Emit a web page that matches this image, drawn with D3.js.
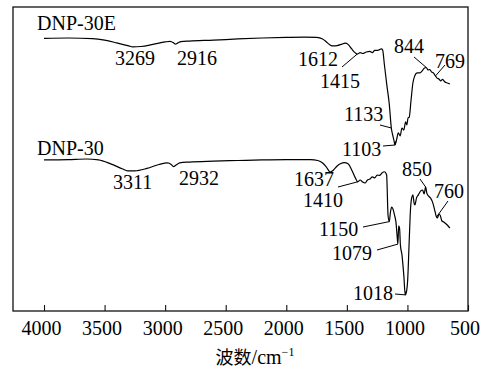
<!DOCTYPE html>
<html>
<head>
<meta charset="utf-8">
<script src="https://cdn.jsdelivr.net/npm/d3@7"></script>
<style>
  body { margin: 0; background: #fff; }
  svg text { font-family: "Liberation Serif", Tinos, "Times New Roman", Times, "DejaVu Serif", serif; fill: #000; }
</style>
</head>
<body>
<svg id="chart" width="485" height="371"></svg>
<script>
// ---- FTIR spectra (wavenumber in cm^-1, transmittance in arbitrary %) ----
const seriesNames = ["DNP-30E", "DNP-30"];

const dnp30eWave = [4000, 3800, 3600, 3500, 3400, 3300, 3269, 3200, 3100, 3000, 2960, 2930, 2916, 2895, 2870, 2800,
  2600, 2400, 2200, 2000, 1850, 1750, 1700, 1660, 1630, 1612, 1580, 1540, 1515, 1490, 1460, 1430, 1415, 1390, 1370,
  1340, 1310, 1290, 1270, 1250, 1230, 1215, 1205, 1190, 1170, 1150, 1133, 1120, 1110, 1103, 1090, 1075, 1060, 1045,
  1030, 1015, 1005, 995, 985, 970, 955, 940, 920, 900, 880, 860, 844, 830, 815, 800, 785, 769, 755, 740, 725, 710,
  690, 670, 650];
const dnp30eT = [89.7, 89.8, 89.6, 89.1, 88.2, 87.2, 86.9, 87.0, 87.7, 88.5, 88.7, 88.2, 87.8, 88.2, 88.6, 88.8,
  89.1, 89.5, 89.8, 90.0, 90.1, 90.0, 89.5, 88.2, 87.3, 87.2, 87.3, 87.8, 88.1, 87.7, 86.2, 84.9, 84.5, 85.0, 84.7,
  85.2, 85.4, 85.0, 85.7, 85.7, 86.0, 86.2, 85.9, 81.0, 74.3, 68.1, 60.2, 57.6, 55.9, 54.6, 56.3, 58.6, 57.6, 60.2,
  59.5, 62.2, 61.2, 63.5, 63.8, 69.4, 75.0, 77.3, 78.3, 78.3, 78.9, 79.9, 80.1, 79.3, 79.4, 78.6, 78.3, 77.3, 76.6,
  76.3, 75.7, 76.2, 75.3, 75.0, 74.7];

const dnp30Wave = [4000, 3800, 3650, 3550, 3450, 3350, 3311, 3250, 3150, 3050, 2980, 2950, 2932, 2910, 2880, 2800,
  2600, 2400, 2200, 2000, 1800, 1740, 1700, 1670, 1637, 1610, 1580, 1550, 1520, 1490, 1460, 1430, 1410, 1390, 1370,
  1350, 1330, 1310, 1290, 1270, 1250, 1230, 1210, 1190, 1172, 1160, 1150, 1140, 1130, 1120, 1105, 1095, 1085, 1079,
  1072, 1065, 1058, 1045, 1030, 1018, 1008, 998, 985, 975, 965, 955, 945, 938, 925, 910, 890, 875, 862, 850, 840,
  825, 810, 790, 775, 760, 752, 740, 728, 715, 700, 680, 650];
const dnp30T = [49.7, 49.8, 50.0, 49.7, 48.4, 46.7, 46.1, 46.1, 46.9, 48.2, 48.7, 48.2, 47.5, 48.0, 48.7, 49.0,
  49.3, 49.5, 49.7, 49.8, 49.8, 49.5, 48.7, 47.4, 45.7, 46.4, 47.7, 48.5, 48.8, 48.4, 46.4, 43.8, 42.5, 43.1, 42.4,
  42.1, 43.1, 43.4, 44.1, 43.8, 44.7, 44.6, 45.4, 45.8, 44.8, 31.5, 29.4, 32.6, 34.2, 33.6, 31.3, 29.3, 24.6, 22.0,
  28.0, 27.3, 21.7, 18.4, 11.8, 5.3, 6.3, 10.2, 23.4, 33.2, 37.2, 38.2, 35.5, 34.9, 37.2, 38.2, 39.5, 39.8, 38.5,
  40.8, 38.8, 37.8, 37.2, 35.5, 33.2, 30.9, 30.6, 31.9, 31.3, 29.6, 29.3, 28.6, 27.3];

// Assigned band positions, cm^-1
const dnp30ePeaks = [3269, 2916, 1612, 1415, 1133, 1103, 844, 769];
const dnp30Peaks = [3311, 2932, 1637, 1410, 1150, 1079, 1018, 850, 760];

const xTicks = [4000, 3500, 3000, 2500, 2000, 1500, 1000, 500];
const xTitleMain = "波数/cm";
const xTitleSup = "−1";

// ---- layout ----
const serif = '"Liberation Serif", Tinos, "Times New Roman", Times, "DejaVu Serif", serif';
const frame = { left: 13, top: 7, right: 468, bottom: 311 };
const svg = d3.select("#chart");

const x = d3.scaleLinear().domain([4256, 500]).range([frame.left, frame.right]);
const y = d3.scaleLinear().domain([0, 100]).range([frame.bottom, frame.top]);

// label placement: text start x, baseline y, optional leader start and tail
const layoutE = {
  3269: { tx: 115, ty: 65 },
  2916: { tx: 177, ty: 65 },
  1612: { tx: 298, ty: 66 },
  1415: { tx: 320, ty: 88, lead: [342, 67] },
  1133: { tx: 344, ty: 121, lead: [380, 125] },
  1103: { tx: 342, ty: 156, lead: [383, 146], tail: [1, -4] },
  844:  { tx: 394, ty: 53, lead: [414, 57] },
  769:  { tx: 435, ty: 68, lead: [445, 65] }
};
const layout0 = {
  3311: { tx: 113, ty: 189 },
  2932: { tx: 179, ty: 185 },
  1637: { tx: 294, ty: 186 },
  1410: { tx: 303, ty: 207, lead: [338, 187] },
  1150: { tx: 319, ty: 236, lead: [363, 227] },
  1079: { tx: 332, ty: 260, lead: [377, 250] },
  1018: { tx: 353, ty: 300, lead: [395, 294], tail: [1, -4] },
  850:  { tx: 402, ty: 176, lead: [420, 179] },
  760:  { tx: 434, ty: 198, lead: [448, 201] }
};

// ---- frame ----
svg.append("rect")
  .attr("x", frame.left).attr("y", frame.top)
  .attr("width", frame.right - frame.left).attr("height", frame.bottom - frame.top)
  .attr("fill", "none").attr("stroke", "#111").attr("stroke-width", 1.3);

// ---- bottom axis with inward ticks ----
const axis = d3.axisBottom(x).tickValues(xTicks).tickFormat(d3.format("d"))
  .tickSizeInner(-6).tickSizeOuter(0).tickPadding(10);
const gx = svg.append("g").attr("transform", `translate(0,${frame.bottom})`).call(axis)
  .attr("font-family", serif).attr("font-size", 20);
gx.select(".domain").remove();
gx.selectAll(".tick line").attr("stroke", "#111").attr("stroke-width", 1.1);
gx.selectAll(".tick text")
  .style("font-family", serif)
  .attr("font-size", 20).attr("fill", "#000")
  .attr("dx", -3)
  .each(function () {
    // keep the last label inside the canvas
    const bb = this.getBBox();
    const tr = this.parentNode.getAttribute("transform");
    const tx = +tr.match(/translate\(([-\d.]+)/)[1];
    const over = tx + bb.x + bb.width - 3 - 477;
    if (over > 0) d3.select(this).attr("dx", -3 - over);
  });

// axis title
const title = svg.append("text")
  .attr("x", 255).attr("y", 364)
  .attr("text-anchor", "middle")
  .style("font-family", serif)
  .attr("font-size", 20);
title.append("tspan").style("font-family", '"Noto Sans CJK SC", sans-serif').attr("font-size", 18).text(xTitleMain.slice(0, 2));
title.append("tspan").text(xTitleMain.slice(2));
title.append("tspan").attr("font-size", 12).attr("dy", -8).text(xTitleSup);

// ---- spectra ----
const line = d3.line()
  .x(d => x(d[0]))
  .y(d => y(d[1]))
  .curve(d3.curveMonotoneX);

function drawSeries(wave, trans, peaks, layout, name, nameXY) {
  const pts = wave.map((w, i) => [w, trans[i]]).sort((a, b) => b[0] - a[0]);
  svg.append("path")
    .datum(pts)
    .attr("d", line)
    .attr("fill", "none")
    .attr("stroke", "#000")
    .attr("stroke-width", 1.2)
    .attr("stroke-linejoin", "round");

  svg.append("text")
    .attr("x", nameXY[0]).attr("y", nameXY[1])
    .style("font-family", serif)
    .attr("font-size", 20)
    .text(name);

  const valueAt = w => {
    const i = wave.indexOf(w);
    if (i >= 0) return trans[i];
    const j = pts.findIndex(p => p[0] < w);
    const a = pts[j - 1], b = pts[j];
    return a[1] + (b[1] - a[1]) * (a[0] - w) / (a[0] - b[0]);
  };

  peaks.forEach(p => {
    const L = layout[p];
    svg.append("text")
      .attr("x", L.tx).attr("y", L.ty)
      .style("font-family", serif)
      .attr("font-size", 20)
      .text(p);
    if (L.lead) {
      const end = [x(p), y(valueAt(p))];
      const path = [L.lead, end];
      if (L.tail) path.push([end[0] + L.tail[0], end[1] + L.tail[1]]);
      svg.append("path")
        .attr("d", d3.line()(path))
        .attr("fill", "none")
        .attr("stroke", "#000")
        .attr("stroke-width", 1);
    }
  });
}

drawSeries(dnp30eWave, dnp30eT, dnp30ePeaks, layoutE, seriesNames[0], [37, 30]);
drawSeries(dnp30Wave, dnp30T, dnp30Peaks, layout0, seriesNames[1], [37, 155]);
</script>
</body>
</html>
